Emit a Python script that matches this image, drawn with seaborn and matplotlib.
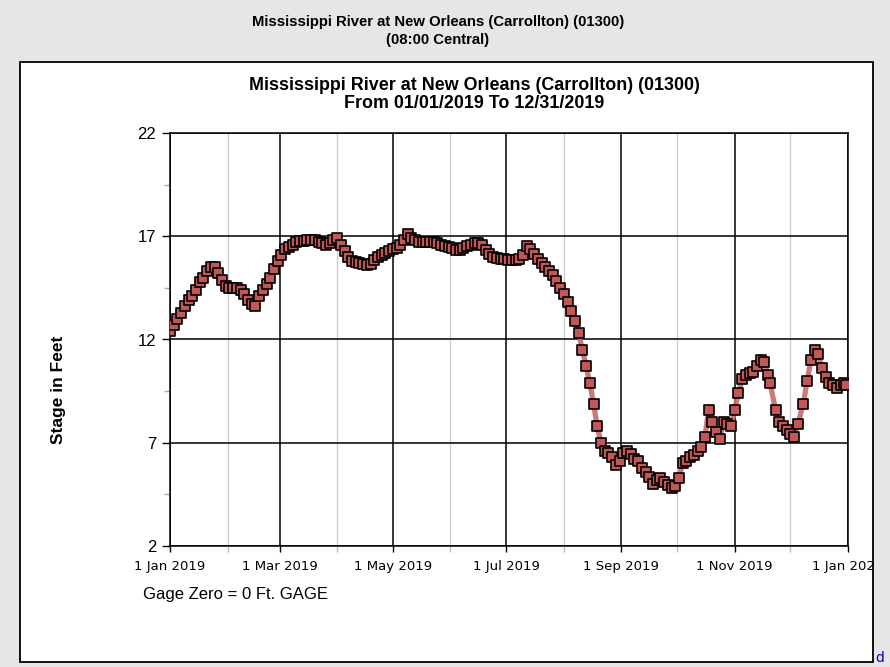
import numpy as np
import pandas as pd
import matplotlib
matplotlib.use("Agg")
import matplotlib.pyplot as plt
import matplotlib.dates as mdates
from matplotlib.patches import Rectangle
import seaborn as sns

# ---- data ----
day_of_year = [0, 2, 4, 6, 8, 10, 12, 14, 16, 18, 20, 22, 24, 26, 28, 30, 32, 34, 36, 38,
               40, 42, 44, 46, 48, 50, 52, 54, 56, 58, 60, 62, 64, 66, 68, 70, 72, 74, 76, 78,
               80, 82, 84, 86, 88, 90, 92, 94, 96, 98, 100, 102, 104, 106, 108, 110, 112, 114, 116, 118,
               120, 122, 124, 126, 128, 130, 132, 134, 136, 138, 140, 142, 144, 146, 148, 150, 152, 154, 156, 158,
               160, 162, 164, 166, 168, 170, 172, 174, 176, 178, 180, 182, 184, 186, 188, 190, 192, 194, 196, 198,
               200, 202, 204, 206, 208, 210, 212, 214, 216, 218, 220, 222, 224, 226, 228, 230, 232, 234, 236, 238,
               240, 242, 244, 246, 248, 250, 252, 254, 256, 258, 260, 262, 264, 266, 268, 270, 272, 274, 276, 278,
               280, 282, 284, 286, 288, 290, 292, 294, 296, 298, 300, 302, 304, 306, 308, 310, 312, 314, 316, 318,
               320, 322, 323, 326, 328, 330, 332, 334, 336, 338, 341, 343, 345, 347, 349, 351, 353, 355, 357, 359,
               361, 363, 364]
stage_ft = [12.4, 12.7, 13.0, 13.3, 13.6, 13.9, 14.1, 14.4, 14.8, 15.0, 15.3, 15.5, 15.5, 15.2, 14.9, 14.6, 14.5, 14.5, 14.5, 14.4,
            14.2, 13.9, 13.7, 13.6, 14.1, 14.4, 14.7, 15.0, 15.4, 15.8, 16.1, 16.4, 16.5, 16.6, 16.7, 16.75, 16.75, 16.8, 16.8, 16.8,
            16.7, 16.65, 16.6, 16.65, 16.8, 16.9, 16.6, 16.3, 16.0, 15.8, 15.75, 15.7, 15.65, 15.6, 15.65, 15.85, 16.0, 16.1, 16.2, 16.3,
            16.4, 16.45, 16.6, 16.8, 17.1, 16.9, 16.8, 16.7, 16.7, 16.7, 16.7, 16.7, 16.65, 16.6, 16.55, 16.5, 16.45, 16.35, 16.35, 16.45,
            16.55, 16.6, 16.65, 16.65, 16.6, 16.35, 16.15, 16.0, 15.95, 15.9, 15.9, 15.85, 15.85, 15.85, 15.9, 16.1, 16.55, 16.4, 16.15, 15.9,
            15.7, 15.5, 15.3, 15.1, 14.85, 14.5, 14.2, 13.8, 13.4, 12.9, 12.3, 11.5, 10.7, 9.9, 8.9, 7.8, 7.0, 6.6, 6.5, 6.3,
            5.9, 6.1, 6.5, 6.6, 6.45, 6.2, 6.1, 5.8, 5.6, 5.35, 5.0, 5.2, 5.3, 5.1, 4.95, 4.8, 4.9, 5.3, 6.0, 6.1,
            6.3, 6.4, 6.6, 6.8, 7.3, 8.6, 8.0, 7.5, 7.2, 8.0, 7.9, 7.8, 8.6, 9.4, 10.1, 10.3, 10.4, 10.45, 10.7, 11.0,
            10.9, 10.3, 9.9, 8.6, 8.0, 7.8, 7.6, 7.4, 7.3, 7.9, 8.9, 10.0, 11.0, 11.5, 11.3, 10.6, 10.2, 9.9, 9.8, 9.65,
            9.8, 9.9, 9.8]

y_ticks = [2, 7, 12, 17, 22]
y_minor_ticks = [4.5, 9.5, 14.5, 19.5]

outer_title = ["Mississippi River at New Orleans (Carrollton) (01300)", "(08:00 Central)"]
inner_title = ["Mississippi River at New Orleans (Carrollton) (01300)", "From 01/01/2019 To 12/31/2019"]
y_label = "Stage in Feet"
note_text = "Gage Zero = 0 Ft. GAGE"

df = pd.DataFrame({
    "date": pd.Timestamp("2019-01-01") + pd.to_timedelta(day_of_year, unit="D"),
    "stage": stage_ft,
})

# ---- figure ----
sns.set_theme(style="white")
plt.rcParams["font.family"] = ["Liberation Sans", "DejaVu Sans"]
plt.rcParams["text.color"] = "black"
plt.rcParams["axes.labelcolor"] = "black"
plt.rcParams["xtick.color"] = "black"
plt.rcParams["ytick.color"] = "black"

W, H = 890, 667
fig = plt.figure(figsize=(W / 100, H / 100), dpi=100)
fig.patch.set_facecolor("#e6e6e6")

def fx(px):
    return px / W

def fy(py):
    return 1 - py / H

# white panel
panel = Rectangle((fx(20), fy(662)), fx(873) - fx(20), fy(62) - fy(662),
                  transform=fig.transFigure, facecolor="white", edgecolor="none", zorder=-5)
fig.patches.append(panel)

ax = fig.add_axes([fx(170), fy(546), fx(848) - fx(170), fy(133) - fy(546)])
ax.set_facecolor("white")

sns.lineplot(data=df, x="date", y="stage", ax=ax, color="#c86a6a", linewidth=3.8,
             alpha=0.9, zorder=3, legend=False)
sns.scatterplot(data=df, x="date", y="stage", ax=ax, marker="s", s=44,
                color="#c05858", edgecolor="black", linewidth=1.2, zorder=4, legend=False)

ax.set_xlim(pd.Timestamp("2019-01-01"), pd.Timestamp("2020-01-01"))
ax.set_ylim(2, 22)
ax.set_yticks(y_ticks)
ax.set_yticks(y_minor_ticks, minor=True)
ax.xaxis.set_major_locator(mdates.MonthLocator(bymonth=[1, 3, 5, 7, 9, 11]))
ax.xaxis.set_minor_locator(mdates.MonthLocator(bymonth=[2, 4, 6, 8, 10, 12]))
ax.xaxis.set_major_formatter(mdates.DateFormatter("%-d %b %Y"))
ax.set_xlabel("")
ax.set_ylabel("")

ax.set_axisbelow(True)
ax.grid(True, which="major", color="black", linewidth=1.1)
ax.grid(True, which="minor", axis="x", color="#cccccc", linewidth=1.0)

for sp in ax.spines.values():
    sp.set_visible(True)
    sp.set_color("black")
    sp.set_linewidth(1.1)

ax.tick_params(axis="y", which="major", direction="out", length=6, width=1, color="black",
               labelcolor="black", labelsize=12, pad=4, left=True)
ax.tick_params(axis="y", which="minor", direction="out", length=4, width=1, color="#aaaaaa", left=True)
ax.tick_params(axis="x", which="major", direction="out", length=4, width=1, color="black",
               labelcolor="black", pad=6, bottom=True)
ax.tick_params(axis="x", which="minor", direction="out", length=4, width=1, color="#bbbbbb", bottom=True)
for lab in ax.get_xticklabels():
    lab.set_fontfamily(["DejaVu Sans"])
    lab.set_fontsize(9.5)

# cover overflow beyond the panel on the right, then panel border
cover = Rectangle((fx(873), 0), 1 - fx(873), 1, transform=fig.transFigure,
                  facecolor="#e6e6e6", edgecolor="none", zorder=10)
fig.patches.append(cover)
border = Rectangle((fx(20), fy(662)), fx(873) - fx(20), fy(62) - fy(662),
                   transform=fig.transFigure, facecolor="none", edgecolor="black",
                   linewidth=1.3, zorder=11)
fig.patches.append(border)

narrow = ["Liberation Sans Narrow", "Liberation Sans", "DejaVu Sans"]
fig.text(fx(438), fy(22), outer_title[0], ha="center", va="center", fontsize=10.7,
         fontweight="bold", family=narrow)
fig.text(fx(438), fy(40), outer_title[1], ha="center", va="center", fontsize=10.7,
         fontweight="bold", family=narrow)
fig.text(fx(474), fy(85), inner_title[0], ha="center", va="center", fontsize=12.9,
         fontweight="bold", family=narrow)
fig.text(fx(474), fy(103), inner_title[1], ha="center", va="center", fontsize=12.9,
         fontweight="bold", family=narrow)

fig.text(fx(58), fy(390), y_label, rotation=90, ha="center", va="center",
         fontsize=12.5, fontweight="bold")
fig.text(fx(143), fy(594), note_text, ha="left", va="center", fontsize=12)
fig.text(fx(875), fy(658), "d", ha="left", va="center", fontsize=10, color="#0000cc",
         zorder=12, family=["DejaVu Sans"])

fig.savefig("out.png", dpi=100, facecolor=fig.get_facecolor())
